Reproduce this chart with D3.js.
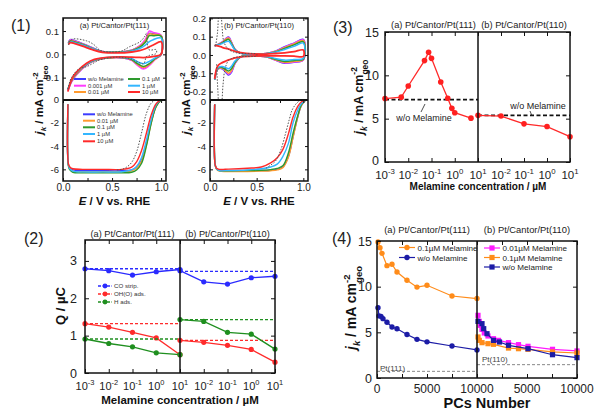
<!DOCTYPE html>
<html><head><meta charset="utf-8">
<script src="https://cdn.jsdelivr.net/npm/d3@7"></script>
<style>body{margin:0;background:#fff}svg{display:block}</style>
</head><body><svg id="c" width="600" height="416"></svg>
<script>
// ================= DATA =================
// Panel (1): CV series and LSV series
const cvNames = ["w/o Melamine","0.001 µM","0.01 µM","0.1 µM","1 µM","10 µM"];
const cvColors = ["#3c3cff","#ff3cff","#ff9a2e","#2e9a2e","#33b6ff","#ff2a2a"];
const lsvNames = ["w/o Melamine","0.01 µM","0.1 µM","1 µM","10 µM"];
const lsvColors = ["#3c3cff","#ff9a2e","#2e9a2e","#33b6ff","#ff2a2a"];

// (1a) Pt/Cantor/Pt(111) CV, anodic then cathodic branch
const cv111_Eup = [0.055,0.075,0.12,0.2,0.3,0.4,0.55,0.7,0.78,0.84,0.88,0.92,1.0];
const cv111_up = [
 [0.05,0.063,0.058,0.046,0.028,0.012,0.01,0.018,0.035,0.06,0.09,0.088,0.08],
 [0.05,0.062,0.057,0.045,0.027,0.012,0.01,0.018,0.036,0.065,0.1,0.094,0.082],
 [0.048,0.058,0.054,0.043,0.026,0.012,0.01,0.017,0.033,0.058,0.088,0.086,0.08],
 [0.048,0.057,0.053,0.042,0.025,0.011,0.009,0.016,0.03,0.052,0.08,0.08,0.078],
 [0.045,0.054,0.05,0.04,0.024,0.011,0.008,0.014,0.025,0.04,0.055,0.063,0.07],
 [0.042,0.05,0.046,0.035,0.02,0.009,0.006,0.01,0.016,0.024,0.032,0.04,0.054]];
const cv111_Edn = [1.0,0.94,0.88,0.82,0.76,0.7,0.6,0.45,0.32,0.24,0.14,0.09,0.05];
const cv111_dn = [
 [0.0,-0.02,-0.045,-0.06,-0.045,-0.025,-0.015,-0.016,-0.027,-0.045,-0.085,-0.115,-0.155],
 [0.0,-0.022,-0.048,-0.063,-0.047,-0.026,-0.015,-0.016,-0.028,-0.046,-0.087,-0.117,-0.155],
 [0.0,-0.02,-0.043,-0.057,-0.043,-0.024,-0.014,-0.016,-0.027,-0.044,-0.083,-0.113,-0.15],
 [0.0,-0.018,-0.04,-0.052,-0.04,-0.022,-0.014,-0.015,-0.026,-0.043,-0.08,-0.11,-0.15],
 [0.0,-0.015,-0.03,-0.04,-0.032,-0.018,-0.012,-0.014,-0.025,-0.042,-0.078,-0.108,-0.148],
 [0.0,-0.008,-0.012,-0.014,-0.013,-0.012,-0.011,-0.013,-0.022,-0.038,-0.075,-0.105,-0.16]];
const cv111_refE = [0.055,0.086,0.24,0.32,0.375,0.47,0.6,0.68,0.785,0.83,0.85,0.875,0.95,0.95,0.875,0.85,0.82,0.7,0.55,0.375,0.3,0.24,0.17,0.086,0.05];
const cv111_ref = [0.04,0.064,0.058,0.04,0.018,0.01,0.015,0.033,0.054,0.075,0.09,0.02,0.02,0.004,-0.005,-0.01,-0.04,-0.02,-0.012,-0.024,-0.04,-0.053,-0.06,-0.1,-0.15];

// (1b) Pt/Cantor/Pt(110) CV
const cv110_Eup = [0.05,0.08,0.13,0.17,0.2,0.23,0.27,0.33,0.45,0.6,0.7,0.8,0.9,1.0];
const cv110_up = [
 [0.05,0.056,0.07,0.09,0.098,0.07,0.03,0.01,0.004,0.008,0.02,0.045,0.065,0.085],
 [0.05,0.056,0.07,0.088,0.095,0.068,0.029,0.01,0.004,0.008,0.02,0.043,0.063,0.082],
 [0.05,0.056,0.068,0.085,0.092,0.066,0.028,0.01,0.004,0.008,0.019,0.04,0.06,0.078],
 [0.05,0.055,0.066,0.08,0.085,0.062,0.027,0.01,0.004,0.007,0.017,0.036,0.055,0.072],
 [0.05,0.054,0.062,0.072,0.075,0.056,0.025,0.009,0.004,0.007,0.015,0.03,0.047,0.065],
 [0.052,0.05,0.042,0.036,0.032,0.027,0.02,0.013,0.006,0.005,0.008,0.012,0.018,0.027]];
const cv110_Edn = [1.0,0.9,0.8,0.7,0.6,0.45,0.33,0.27,0.23,0.2,0.17,0.13,0.09,0.07,0.05];
const cv110_dn = [
 [-0.028,-0.04,-0.045,-0.028,-0.01,-0.005,-0.01,-0.045,-0.095,-0.11,-0.095,-0.075,-0.075,-0.09,-0.135],
 [-0.027,-0.038,-0.043,-0.027,-0.01,-0.005,-0.01,-0.043,-0.09,-0.105,-0.09,-0.074,-0.075,-0.09,-0.135],
 [-0.025,-0.035,-0.04,-0.026,-0.01,-0.005,-0.01,-0.04,-0.085,-0.1,-0.088,-0.072,-0.073,-0.09,-0.135],
 [-0.022,-0.03,-0.035,-0.023,-0.009,-0.005,-0.01,-0.038,-0.075,-0.088,-0.08,-0.068,-0.07,-0.088,-0.135],
 [-0.018,-0.025,-0.028,-0.019,-0.008,-0.005,-0.01,-0.032,-0.062,-0.075,-0.07,-0.063,-0.067,-0.086,-0.135],
 [-0.008,-0.006,-0.005,-0.005,-0.005,-0.006,-0.01,-0.016,-0.022,-0.027,-0.033,-0.042,-0.055,-0.075,-0.13]];
const cv110_refE = [0.06,0.08,0.095,0.11,0.13,0.15,0.2,0.3,0.5,0.5,0.3,0.2,0.16,0.14,0.12,0.1,0.085,0.07];
const cv110_ref = [0.05,0.12,0.25,0.3,0.15,0.07,0.03,0.01,0.005,-0.005,-0.01,-0.03,-0.08,-0.16,-0.28,-0.3,-0.2,-0.05];

// (1a) LSV
const lsv111_E = [0.05,0.055,0.07,0.1,0.2,0.4,0.6,0.7,0.75,0.8,0.85,0.9,0.95,1.0,1.03];
const lsv111 = [
 [-0.4,-5.6,-5.9,-6.05,-6.1,-6.12,-6.12,-6.05,-5.8,-5.2,-3.8,-1.9,-0.55,-0.05,0],
 [-0.4,-5.6,-5.95,-6.15,-6.2,-6.2,-6.2,-6.12,-5.9,-5.3,-3.9,-2.0,-0.6,-0.06,0],
 [-0.4,-5.7,-6.05,-6.25,-6.3,-6.3,-6.3,-6.25,-6.05,-5.5,-4.0,-2.0,-0.6,-0.06,0],
 [-0.4,-5.6,-5.95,-6.15,-6.22,-6.22,-6.2,-6.05,-5.75,-5.0,-3.5,-1.7,-0.45,-0.04,0],
 [-0.4,-5.5,-5.8,-5.95,-6.0,-6.0,-6.0,-5.8,-5.35,-4.4,-2.9,-1.3,-0.35,-0.03,0]];
const lsv111_refE = [0.55,0.6,0.65,0.7,0.75,0.8,0.85,0.9,0.95,1.0];
const lsv111_ref = [-6.05,-6.0,-5.8,-5.4,-4.5,-2.9,-1.2,-0.3,-0.03,0];

// (1b) LSV
const lsv110_E = [0.05,0.055,0.07,0.1,0.2,0.4,0.55,0.65,0.72,0.78,0.84,0.89,0.94,0.98,1.03];
const lsv110 = [
 [-0.4,-5.6,-5.95,-6.1,-6.12,-6.12,-6.1,-6.08,-6.0,-5.8,-4.9,-3.2,-1.5,-0.5,0],
 [-0.4,-5.6,-6.0,-6.15,-6.18,-6.18,-6.15,-6.12,-6.05,-5.85,-4.95,-3.25,-1.5,-0.5,0],
 [-0.4,-5.6,-5.95,-6.1,-6.12,-6.1,-6.08,-6.02,-5.92,-5.7,-4.6,-2.9,-1.4,-0.45,0],
 [-0.4,-5.6,-5.95,-6.1,-6.1,-6.05,-5.95,-5.8,-5.55,-4.9,-3.77,-2.0,-0.9,-0.34,0],
 [-0.4,-5.6,-5.9,-6.0,-5.98,-5.9,-5.8,-5.45,-5.0,-4.3,-2.95,-1.5,-0.6,-0.2,0]];
const lsv110_refE = [0.6,0.7,0.76,0.81,0.85,0.88,0.93,0.98];
const lsv110_ref = [-5.9,-5.3,-4.3,-2.9,-1.7,-0.9,-0.3,0];

// Panel (2): charges vs melamine concentration
const conc5 = [0.001,0.01,0.1,1,10];
const qNames = ["CO strip.","OH(O) ads.","H ads."];
const qColors = ["#2b2bff","#ff2b2b","#1f8f1f"];
const q111_CO = [2.79,2.74,2.62,2.71,2.77];
const q111_OH = [1.32,1.23,1.09,0.94,0.49];
const q111_H  = [0.91,0.79,0.70,0.54,0.49];
const q111_ref = [2.79,1.32,0.91];
const q110_CO = [2.74,2.44,2.38,2.55,2.59];
const q110_OH = [0.875,0.82,0.74,0.63,0.29];
const q110_H  = [1.43,1.38,1.09,1.04,0.64];
const q110_ref = [2.72,0.875,1.43];

// Panel (3): jk vs melamine concentration
const jk111_conc = [0.001,0.005,0.01,0.05,0.075,0.1,0.25,0.5,0.75,1,5];
const jk111 = [7.32,7.48,8.77,11.7,12.66,11.96,9.23,7.36,6.19,5.69,5.06];
const jk110_conc = [0.001,0.01,0.1,1,10];
const jk110 = [5.38,5.3,4.4,4.09,2.92];
const jkRef = [7.2,5.38];

// Panel (4): jk vs potential cycles
const pc111_o = [100,300,500,1000,1500,2000,3000,4000,5000,7500,10000];
const jk111_o = [14.9,14.27,13.65,12.3,12.45,11.6,10.7,9.95,10.15,8.98,8.7];
const pc111_b = [100,200,400,600,1000,1500,2000,3000,4000,5000,7500,10000];
const jk111_b = [7.7,6.8,6.75,6.5,6.1,5.58,5.4,4.76,4.23,3.96,3.5,3.07];
const pc110_m = [100,230,330,500,730,1100,1650,2150,3150,4150,5100,7550,10000];
const jk110_m = [6.86,6.2,5.77,5.33,4.93,4.6,4.3,4.12,3.87,3.65,3.47,3.14,2.96];
const pc110_o = [100,230,500,1100,1650,3150,4150,5100,7550,10000];
const jk110_o = [4.49,4.12,3.87,3.76,3.69,3.28,3.21,3.14,2.85,2.74];
const pc110_b = [100,500,670,1000,1650,2250,3150,5100,7550,10000];
const jk110_b = [6.2,5.95,5.4,4.85,4.12,3.94,3.58,3.21,2.55,2.23];
const ptRef = [0.73,1.46];
const p4Colors = {orange:"#ff8c1a", blue:"#1c1ca6", magenta:"#ff1aff"};

// ================= DRAWING =================
const FONT = "'Liberation Sans', Arial, Helvetica, sans-serif";
const svg = d3.select("#c").attr("font-family", FONT);
svg.append("rect").attr("width",600).attr("height",416).attr("fill","#fff");
const defs = svg.append("defs");
let clipN = 0;
function clipRect(x0,y0,x1,y1){
  const id = "cl"+(clipN++);
  defs.append("clipPath").attr("id",id).append("rect").attr("x",x0).attr("y",y0).attr("width",x1-x0).attr("height",y1-y0);
  return "url(#"+id+")";
}
function frame(x0,y0,x1,y1,sw){
  svg.append("rect").attr("x",x0).attr("y",y0).attr("width",x1-x0).attr("height",y1-y0)
    .attr("fill","none").attr("stroke","#111").attr("stroke-width",sw||1.5);
}
function vline(x,y0,y1,sw){ svg.append("line").attr("x1",x).attr("x2",x).attr("y1",y0).attr("y2",y1).attr("stroke","#111").attr("stroke-width",sw||1.5); }
function hline(y,x0,x1,sw){ svg.append("line").attr("x1",x0).attr("x2",x1).attr("y1",y).attr("y2",y).attr("stroke","#111").attr("stroke-width",sw||1.5); }
function axis(gen, tx, ty, fs){
  const a = svg.append("g").attr("transform",`translate(${tx},${ty})`).call(gen);
  a.select(".domain").remove();
  a.selectAll("text").attr("font-family",FONT).attr("font-size",fs).attr("fill","#222");
  a.selectAll("line").attr("stroke","#111").attr("stroke-width",1);
  return a;
}
function txt(x,y,s,fs,opt){
  opt = opt||{};
  return svg.append("text").attr("x",x).attr("y",y).attr("font-size",fs)
    .attr("text-anchor",opt.anchor||"start").attr("font-weight",opt.weight||"normal")
    .attr("fill",opt.fill||"#222").text(s);
}
function logLabel(x,y,exp,fs){
  const t = svg.append("text").attr("x",x).attr("y",y).attr("text-anchor","middle").attr("font-size",fs).attr("fill","#222");
  t.append("tspan").text("10");
  t.append("tspan").attr("dy",-fs*0.42).attr("font-size",fs*0.68).text(exp);
}
function jkLabel(x,y,fs){
  const t = svg.append("text").attr("transform",`translate(${x},${y}) rotate(-90)`)
    .attr("text-anchor","middle").attr("font-size",fs).attr("font-weight","bold").attr("fill","#111");
  t.append("tspan").attr("font-style","italic").text("j");
  t.append("tspan").attr("font-style","italic").attr("font-size",fs*0.68).attr("dy",fs*0.3).text("k");
  t.append("tspan").attr("dy",-fs*0.3).text(" / mA cm");
  t.append("tspan").attr("font-size",fs*0.68).attr("dy",-fs*0.45).text("-2");
  t.append("tspan").attr("font-size",fs*0.68).attr("dx",-fs*0.6).attr("dy",fs*0.85).text("geo");
}
function panelLabel(x,y,s){ txt(x,y,s,16); }
const fmtInt = d3.format("d");

// ---------- Panel (1) ----------
panelLabel(11,31,"(1)");
const p1Top=18, p1Mid=100, p1Bot=181;
const p1 = [
  {x0:63,x1:166,title:"(a) Pt/Cantor/Pt(111)",yTop:[-0.196,0.156],topTicks:[0.1,0,-0.1],
   Eup:cv111_Eup,up:cv111_up,Edn:cv111_Edn,dn:cv111_dn,refE:cv111_refE,ref:cv111_ref,
   lE:lsv111_E,l:lsv111,lrefE:lsv111_refE,lref:lsv111_ref,ylab:43},
  {x0:210,x1:308,title:"(b) Pt/Cantor/Pt(110)",yTop:[-0.246,0.202],topTicks:[0.2,0.1,0,-0.1,-0.2],
   Eup:cv110_Eup,up:cv110_up,Edn:cv110_Edn,dn:cv110_dn,refE:cv110_refE,ref:cv110_ref,
   lE:lsv110_E,l:lsv110,lrefE:lsv110_refE,lref:lsv110_ref,ylab:190}
];
p1.forEach((p,pi)=>{
  const x = d3.scaleLinear().domain([0,1.05]).range([p.x0,p.x1]);
  const yT = d3.scaleLinear().domain(p.yTop).range([p1Mid,p1Top]);
  const yB = d3.scaleLinear().domain([-7,0]).range([p1Bot,99.5]);
  const cT = clipRect(p.x0,p1Top,p.x1,p1Mid);
  const cB = clipRect(p.x0,p1Mid,p.x1,p1Bot);
  const lineT = d3.line().x(d=>x(d[0])).y(d=>yT(d[1])).curve(d3.curveCatmullRom.alpha(0.5));
  const lineB = d3.line().x(d=>x(d[0])).y(d=>yB(d[1])).curve(d3.curveCatmullRom.alpha(0.5));
  const gT = svg.append("g").attr("clip-path",cT);
  cvNames.forEach((n,i)=>{
    const pts = p.Eup.map((e,j)=>[e,p.up[i][j]]).concat(p.Edn.map((e,j)=>[e,p.dn[i][j]]));
    gT.append("path").attr("d",lineT(pts)).attr("fill","none").attr("stroke",cvColors[i]).attr("stroke-width",i===5?1.8:1.5);
  });
  gT.append("path").attr("d",lineT(p.refE.map((e,j)=>[e,p.ref[j]]))).attr("fill","none")
    .attr("stroke","#555").attr("stroke-width",1).attr("stroke-dasharray","1.5,1.5");
  const gB = svg.append("g").attr("clip-path",cB);
  lsvNames.forEach((n,i)=>{
    const pts = p.lE.map((e,j)=>[e,p.l[i][j]]);
    gB.append("path").attr("d",lineB(pts)).attr("fill","none").attr("stroke",lsvColors[i]).attr("stroke-width",1.4);
  });
  gB.append("path").attr("d",lineB(p.lrefE.map((e,j)=>[e,p.lref[j]]))).attr("fill","none")
    .attr("stroke","#555").attr("stroke-width",1).attr("stroke-dasharray","1.5,1.5");
  // axes
  const fmt1 = d3.format(".1f");
  axis(d3.axisLeft(yT).tickValues(p.topTicks).tickFormat(v=>fmt1(v).replace("−","-")).tickSize(-3).tickPadding(4), p.x0,0,9.5);
  axis(d3.axisRight(yT).tickValues(p.topTicks).tickFormat("").tickSize(-3), p.x1,0,9);
  const lowAx = axis(d3.axisLeft(yB).tickValues([0,-2,-4,-6]).tickFormat(v=>String(v)).tickSize(-3).tickPadding(4), p.x0,0,9.5);
  if(pi===1) lowAx.selectAll("text").filter(v=>v===0).attr("dy","0.55em");
  axis(d3.axisRight(yB).tickValues([0,-2,-4,-6]).tickFormat("").tickSize(-3), p.x1,0,9);
  const xt=[0,0.25,0.5,0.75,1.0];
  axis(d3.axisBottom(x).tickValues(xt).tickFormat(v=>(v*2)%1===0?fmt1(v):"").tickSize(-3).tickPadding(3), 0,p1Bot,10);
  axis(d3.axisTop(x).tickValues(xt).tickFormat("").tickSize(-3), 0,p1Top,9);
  axis(d3.axisBottom(x).tickValues(xt).tickFormat("").tickSize(3), 0,p1Mid,9);
  frame(p.x0,p1Top,p.x1,p1Bot,1.5);
  hline(p1Mid,p.x0,p.x1,1.8);
  txt((p.x0+p.x1)/2,27.5,p.title,7.6,{anchor:"middle"});
  // x label
  const xl = svg.append("text").attr("x",(p.x0+p.x1)/2).attr("y",205).attr("text-anchor","middle")
    .attr("font-size",11.5).attr("font-weight","bold").attr("fill","#111");
  xl.append("tspan").attr("font-style","italic").text("E");
  xl.append("tspan").text(" / V vs. RHE");
  jkLabel(p.ylab,100,11.5);
});
// legends in (1a)
function legLine(x0,x1,y,c,w){ svg.append("line").attr("x1",x0).attr("x2",x1).attr("y1",y).attr("y2",y).attr("stroke",c).attr("stroke-width",w||2); }
[[0,74,79],[1,74,85.7],[2,74,92],[3,128,79],[4,128,85.7],[5,128,92]].forEach(([i,xx,yy])=>{
  legLine(xx,xx+12,yy,cvColors[i],2);
  txt(xx+14,yy+2,cvNames[i],5.8,{fill:"#333"});
});
[114.3,120.7,127.3,134,141.3].forEach((yy,i)=>{
  legLine(83,95,yy,lsvColors[i],2);
  txt(97,yy+2,lsvNames[i],5.8,{fill:"#333"});
});

// ---------- Panel (2) ----------
panelLabel(24,244,"(2)");
{
  const X0=85, XM=180, X1=275, YT=240, YB=373;
  const y = d3.scaleLinear().domain([0,3.56]).range([YB,YT]);
  const xa = d3.scaleLog().domain([1e-3,10]).range([X0,XM]);
  const xb = d3.scaleLog().domain([1e-3,10]).range([XM,X1]);
  const halves = [
    {x:xa,x0:X0,x1:XM,data:[q111_CO,q111_OH,q111_H],ref:q111_ref,title:"(a) Pt/Cantor/Pt(111)"},
    {x:xb,x0:XM,x1:X1,data:[q110_CO,q110_OH,q110_H],ref:q110_ref,title:"(b) Pt/Cantor/Pt(110)"}];
  halves.forEach((h,hi)=>{
    h.data.forEach((d,i)=>{
      svg.append("line").attr("x1",h.x0).attr("x2",h.x1).attr("y1",y(h.ref[i])).attr("y2",y(h.ref[i]))
        .attr("stroke",qColors[i]).attr("stroke-width",1.3).attr("stroke-dasharray","3,2");
      const ln = d3.line().x((v,j)=>h.x(conc5[j])).y(v=>y(v));
      svg.append("path").attr("d",ln(d)).attr("fill","none").attr("stroke",qColors[i]).attr("stroke-width",1.3);
      svg.selectAll(null).data(d).enter().append("circle").attr("cx",(v,j)=>h.x(conc5[j])).attr("cy",v=>y(v))
        .attr("r",2.6).attr("fill",qColors[i]);
    });
    axis(d3.axisBottom(h.x).tickValues(conc5).tickFormat("").tickSize(-4), 0,YB,9);
    axis(d3.axisTop(h.x).tickValues(conc5).tickFormat("").tickSize(-4), 0,YT,9);
    txt((h.x0+h.x1)/2,237,h.title,9.2,{anchor:"middle"});
    conc5.forEach((c,j)=>{ if(hi===0||j>0) logLabel(h.x(c),390,String(Math.round(Math.log10(c))),11); });
  });
  axis(d3.axisLeft(y).tickValues([0,1,2,3]).tickFormat(fmtInt).tickSize(-4).tickPadding(8), X0,0,12.5);
  axis(d3.axisRight(y).tickValues([0,1,2,3]).tickFormat("").tickSize(-4), X1,0,9);
  frame(X0,YT,X1,YB,1.5);
  vline(XM,YT,YB,1.5);
  qNames.forEach((n,i)=>{
    const yy=286+i*8;
    svg.append("line").attr("x1",98).attr("x2",112).attr("y1",yy).attr("y2",yy).attr("stroke",qColors[i]).attr("stroke-width",1.3).attr("stroke-dasharray","3,1.5");
    svg.append("circle").attr("cx",105).attr("cy",yy).attr("r",2.4).attr("fill",qColors[i]);
    txt(114,yy+2.2,n,6.2,{fill:"#333"});
  });
  svg.append("text").attr("transform","translate(65,306) rotate(-90)").attr("text-anchor","middle")
    .attr("font-size",13).attr("font-weight","bold").attr("fill","#111").text("Q / µC");
  txt(180,404,"Melamine concentration / µM",11.5,{anchor:"middle",weight:"bold",fill:"#111"});
}

// ---------- Panel (3) ----------
panelLabel(333,33,"(3)");
{
  const X0=385, XM=478, X1=570, YT=32, YB=162;
  const y = d3.scaleLinear().domain([0,15]).range([YB,YT]);
  const xa = d3.scaleLog().domain([1e-3,10]).range([X0,XM]);
  const xb = d3.scaleLog().domain([1e-3,10]).range([XM,X1]);
  const halves = [{x:xa,x0:X0,x1:XM,c:jk111_conc,v:jk111,ref:jkRef[0],title:"(a) Pt/Cantor/Pt(111)"},
                  {x:xb,x0:XM,x1:X1,c:jk110_conc,v:jk110,ref:jkRef[1],title:"(b) Pt/Cantor/Pt(110)"}];
  halves.forEach((h,hi)=>{
    svg.append("line").attr("x1",h.x0).attr("x2",h.x1).attr("y1",y(h.ref)).attr("y2",y(h.ref))
      .attr("stroke","#111").attr("stroke-width",1.6).attr("stroke-dasharray","4,2.5");
    const ln = d3.line().x((v,j)=>h.x(h.c[j])).y(v=>y(v));
    svg.append("path").attr("d",ln(h.v)).attr("fill","none").attr("stroke","#ff2a2a").attr("stroke-width",1.3);
    svg.selectAll(null).data(h.v).enter().append("circle").attr("cx",(v,j)=>h.x(h.c[j])).attr("cy",v=>y(v))
      .attr("r",2.8).attr("fill","#ff2020");
    axis(d3.axisBottom(h.x).tickValues(conc5).tickFormat("").tickSize(-4), 0,YB,9);
    axis(d3.axisTop(h.x).tickValues(conc5).tickFormat("").tickSize(-4), 0,YT,9);
    txt((h.x0+h.x1)/2+ (hi===0?2:0),28,h.title,9.3,{anchor:"middle"});
    conc5.forEach((c,j)=>{ if(hi===0||j>0) logLabel(h.x(c),179,String(Math.round(Math.log10(c))),11.5); });
  });
  const yAx = axis(d3.axisLeft(y).tickValues([0,5,10,15]).tickFormat(fmtInt).tickSize(-4).tickPadding(6), X0,0,12.5);
  yAx.selectAll("text").filter(v=>v===0).attr("dy","0.2em");
  axis(d3.axisRight(y).tickValues([0,5,10,15]).tickFormat("").tickSize(-4), X1,0,9);
  frame(X0,YT,X1,YB,1.5);
  vline(XM,YT,YB,1.5);
  txt(424,121,"w/o Melamine",9,{anchor:"middle",fill:"#222"});
  svg.append("line").attr("x1",421).attr("y1",112).attr("x2",425).attr("y2",104).attr("stroke","#222").attr("stroke-width",0.8);
  txt(538,109,"w/o Melamine",9,{anchor:"middle",fill:"#222"});
  svg.append("line").attr("x1",530).attr("y1",111).attr("x2",532).attr("y2",116).attr("stroke","#222").attr("stroke-width",0.8);
  jkLabel(363,97,12.5);
  txt(478,190,"Melamine concentration / µM",10,{anchor:"middle",weight:"bold",fill:"#111"});
}

// ---------- Panel (4) ----------
panelLabel(332,244,"(4)");
{
  const X0=377, XM=477, X1=577, YT=241, YB=378;
  const y = d3.scaleLinear().domain([0,15]).range([YB,YT]);
  const xa = d3.scaleLinear().domain([0,10000]).range([X0,XM]);
  const xb = d3.scaleLinear().domain([0,10000]).range([XM,X1]);
  function series(x,pcs,vals,color,shape){
    const ln = d3.line().x((v,j)=>x(pcs[j])).y(v=>y(v));
    svg.append("path").attr("d",ln(vals)).attr("fill","none").attr("stroke",color).attr("stroke-width",1.2);
    if(shape==="circle"){
      svg.selectAll(null).data(vals).enter().append("circle").attr("cx",(v,j)=>x(pcs[j])).attr("cy",v=>y(v)).attr("r",2.7).attr("fill",color);
    } else {
      svg.selectAll(null).data(vals).enter().append("rect").attr("x",(v,j)=>x(pcs[j])-2.6).attr("y",v=>y(v)-2.6)
        .attr("width",5.2).attr("height",5.2).attr("fill",color);
    }
  }
  // reference lines
  svg.append("line").attr("x1",X0).attr("x2",XM).attr("y1",y(ptRef[0])).attr("y2",y(ptRef[0])).attr("stroke","#888").attr("stroke-width",1).attr("stroke-dasharray","3,2");
  svg.append("line").attr("x1",XM).attr("x2",X1).attr("y1",y(ptRef[1])).attr("y2",y(ptRef[1])).attr("stroke","#888").attr("stroke-width",1).attr("stroke-dasharray","3,2");
  txt(380,371,"Pt(111)",8,{fill:"#444"});
  txt(482,362,"Pt(110)",8,{fill:"#444"});
  series(xa,pc111_o,jk111_o,p4Colors.orange,"circle");
  series(xa,pc111_b,jk111_b,p4Colors.blue,"circle");
  series(xb,pc110_m,jk110_m,p4Colors.magenta,"square");
  series(xb,pc110_o,jk110_o,p4Colors.orange,"square");
  series(xb,pc110_b,jk110_b,p4Colors.blue,"square");
  [[xa,X0,XM,0],[xb,XM,X1,1]].forEach(([x,a,b,hi])=>{
    axis(d3.axisBottom(x).tickValues([0,2500,5000,7500,10000]).tickFormat("").tickSize(-4), 0,YB,9);
    axis(d3.axisTop(x).tickValues([0,2500,5000,7500,10000]).tickFormat("").tickSize(-4), 0,YT,9);
    [0,5000,10000].forEach(v=>{ if(hi===0||v>0) txt(x(v),392.5,String(v),12,{anchor:"middle"}); });
  });
  axis(d3.axisLeft(y).tickValues([0,5,10,15]).tickFormat(fmtInt).tickSize(-4).tickPadding(5), X0,0,12.5);
  axis(d3.axisRight(y).tickValues([0,5,10,15]).tickFormat("").tickSize(-4), X1,0,9);
  frame(X0,YT,X1,YB,1.5);
  vline(XM,YT,YB,1.5);
  txt(427,233,"(a) Pt/Cantor/Pt(111)",9.4,{anchor:"middle"});
  txt(527,233,"(b) Pt/Cantor/Pt(110)",9.4,{anchor:"middle"});
  // legends
  function leg(x0,yy,color,shape,label){
    svg.append("line").attr("x1",x0).attr("x2",x0+16).attr("y1",yy).attr("y2",yy).attr("stroke",color).attr("stroke-width",1.2);
    if(shape==="circle") svg.append("circle").attr("cx",x0+8).attr("cy",yy).attr("r",2.7).attr("fill",color);
    else svg.append("rect").attr("x",x0+5.4).attr("y",yy-2.6).attr("width",5.2).attr("height",5.2).attr("fill",color);
    txt(x0+18.5,yy+3,label,8.1,{fill:"#222"});
  }
  leg(399,247.5,p4Colors.orange,"circle","0.1µM Melamine");
  leg(399,257.5,p4Colors.blue,"circle","w/o Melamine");
  leg(484,248,p4Colors.magenta,"square","0.01µM Melamine");
  leg(484,257.5,p4Colors.orange,"square","0.1µM Melamine");
  leg(484,267,p4Colors.blue,"square","w/o Melamine");
  jkLabel(356,308,14);
  txt(487,408,"PCs Number",14.5,{anchor:"middle",weight:"bold",fill:"#111"});
}
</script></body></html>
